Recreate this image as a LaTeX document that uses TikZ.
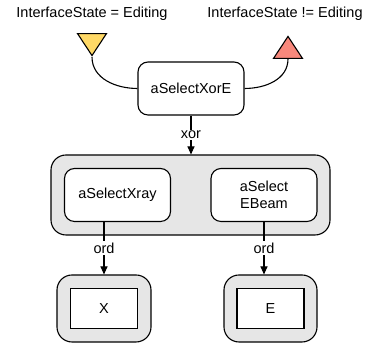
\documentclass[tikz,border=0pt]{standalone}
\usepackage{fontspec}
\setmainfont{Liberation Sans}
\usetikzlibrary{shapes.geometric,arrows.meta}
\definecolor{condYellow}{RGB}{255,217,102}
\definecolor{condRed}{RGB}{248,136,124}
\definecolor{groupGray}{RGB}{230,230,230}

\begin{document}
\begin{tikzpicture}[x=1pt,y=1pt,line width=1.1pt,
    font=\fontsize{14.5}{17}\selectfont,
    action/.style={draw,fill=white,rounded corners=10pt,minimum width=106pt,minimum height=53pt,align=center,inner sep=2pt},
    group/.style={draw,fill=groupGray,rounded corners=15pt},
    leaf/.style={draw,fill=white,minimum width=67pt,minimum height=40pt},
    cond/.style={draw,isosceles triangle,isosceles triangle stretches,inner sep=0pt,minimum width=29pt,minimum height=22pt},
    link/.style={-{Triangle[length=8pt,width=7pt]}},
    tag/.style={fill=white,inner sep=1.5pt}]
  \useasboundingbox (0,0) rectangle (368,344);

  % Conditions
  \node (isText) at (92,330) {InterfaceState = Editing};
  \node (notText) at (285,330) {InterfaceState != Editing};
  \node[cond,fill=condYellow,shape border rotate=270,anchor=apex] (isEditing) at (92,287) {};
  \node[cond,fill=condRed,shape border rotate=90,anchor=apex] (notEditing) at (288,309) {};

  % Root selection
  \node[action] (xorE) at (191,255.5) {aSelectXorE};
  \draw (isEditing.apex) to[out=-90,in=180] (xorE.west);
  \draw (xorE.east) to[out=0,in=-90] (notEditing.south);

  % Alternatives
  \node[group,minimum width=279pt,minimum height=80pt] (choice) at (190.5,149) {};
  \node[action] (xray) at (117.5,149) {aSelectXray};
  \node[action] (ebeam) at (264,149) {aSelect\\EBeam};
  \draw[link] (xorE.south) -- node[tag] {xor} (xorE.south |- choice.north);

  % Results
  \node[group,minimum width=94pt,minimum height=67pt] (xOuter) at (104,35.5) {};
  \node[leaf] (xBox) at (104,35.5) {X};
  \node[group,minimum width=93pt,minimum height=67pt] (eOuter) at (270.5,35.5) {};
  \node[leaf] (eBox) at (270.5,35.5) {E};
  \draw[link] (xOuter.north |- xray.south) -- node[tag] {ord} (xOuter.north);
  \draw[link] (ebeam.south) -- node[tag] {ord} (ebeam.south |- eOuter.north);
\end{tikzpicture}
\end{document}
